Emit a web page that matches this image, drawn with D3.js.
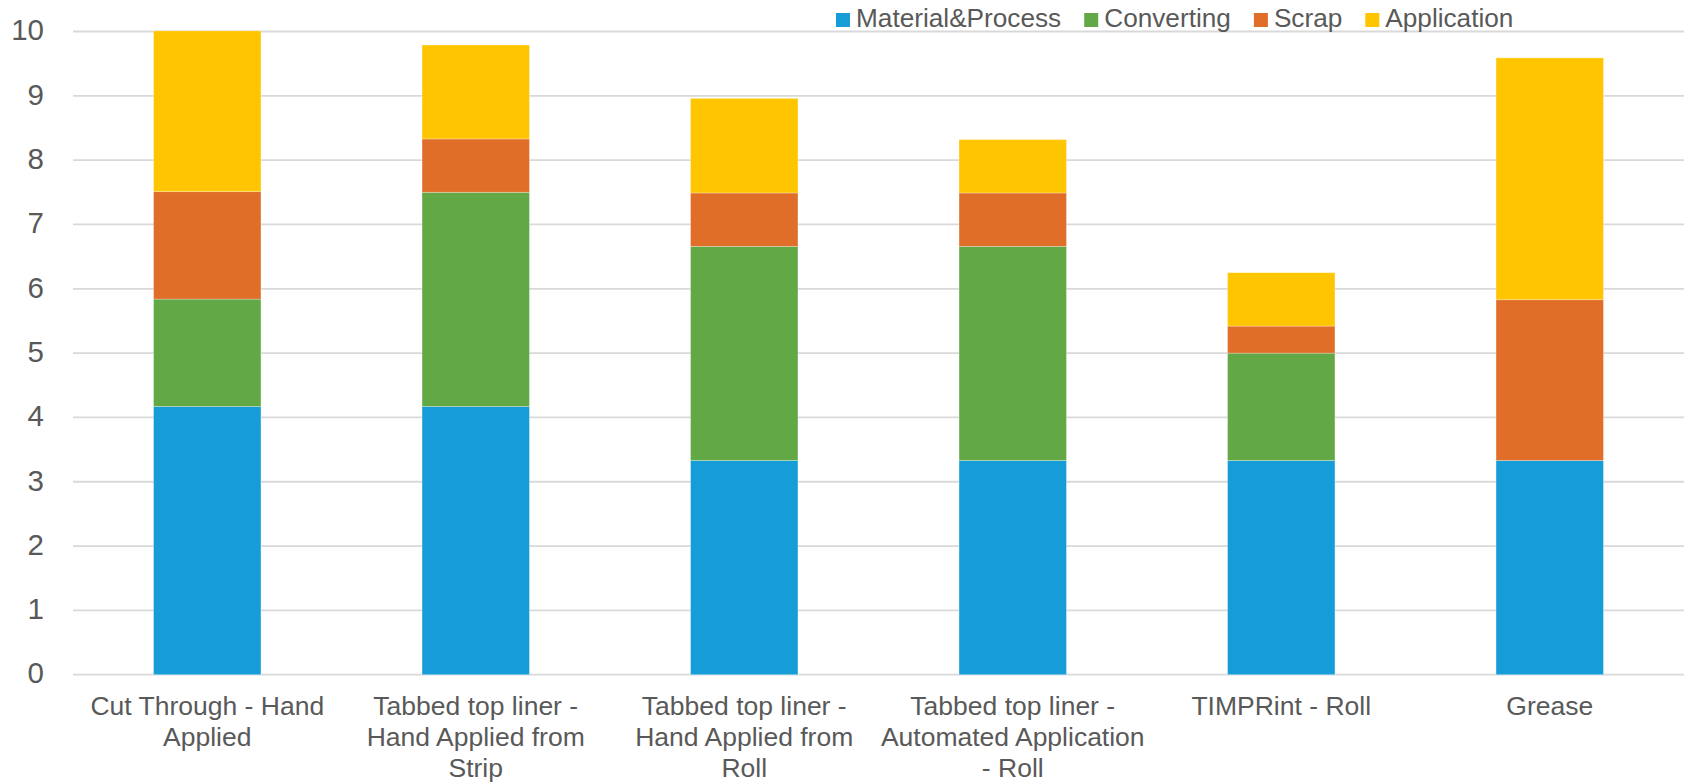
<!DOCTYPE html>
<html>
<head>
<meta charset="utf-8">
<script src="https://cdn.jsdelivr.net/npm/d3@7"></script>
<style>
  body { margin: 0; background: #fff; }
  svg { display: block; }
  text { font-family: "Liberation Sans", Arial, sans-serif; fill: #595959; }
</style>
</head>
<body>
<div class="container"></div>
<script>

var categories = [
  'Cut Through - Hand\nApplied',
  'Tabbed top liner -\nHand Applied from\nStrip',
  'Tabbed top liner -\nHand Applied from\nRoll',
  'Tabbed top liner -\nAutomated Application\n- Roll',
  'TIMPRint - Roll',
  'Grease'
]

var keys = ['Material&Process', 'Converting', 'Scrap', 'Application']

var materialProcess = [4.17, 4.17, 3.33, 3.33, 3.33, 3.33]
var converting      = [1.67, 3.33, 3.33, 3.33, 1.67, 0]
var scrap           = [1.67, 0.83, 0.83, 0.83, 0.42, 2.5]
var application     = [2.5, 1.46, 1.47, 0.83, 0.83, 3.76]

var yTicks = [0, 1, 2, 3, 4, 5, 6, 7, 8, 9, 10]

var colors = ['#169dd8', '#62a845', '#e06d28', '#ffc500']


var width = 1684
var height = 782

var rows = categories.map((name, i) => ({
  name,
  'Material&Process': materialProcess[i],
  'Converting': converting[i],
  'Scrap': scrap[i],
  'Application': application[i],
}))

var stacked = d3.stack().keys(keys)(rows)

var svg = d3.select('.container').append('svg')
  .attr('width', width)
  .attr('height', height)

var x = d3.scaleBand()
  .domain(categories)
  .range([73, 1684])
  .paddingInner(0.6)
  .paddingOuter(0.3)

var y = d3.scaleLinear()
  .domain([0, 10])
  .range([674.7, 31.5])

var color = d3.scaleOrdinal().domain(keys).range(colors)


// gridlines
svg.append('g')
  .selectAll('line')
  .data(yTicks)
  .join('line')
  .attr('x1', 73)
  .attr('x2', 1684)
  .attr('y1', d => y(d))
  .attr('y2', d => y(d))
  .attr('stroke', '#d9d9d9')
  .attr('stroke-width', 1.8)

// y axis labels, no domain line
var yAxis = d3.axisLeft(y).tickValues(yTicks).tickSize(0).tickPadding(0)
var yAxisSel = svg.append('g')
  .attr('transform', 'translate(44,0)')
  .call(yAxis)
yAxisSel.select('.domain').remove()
yAxisSel.selectAll('text')
  .attr('font-size', 29.5)
  .attr('font-family', null)
  .attr('fill', '#595959')
  .attr('dy', '0.28em')


// bars
svg.append('g')
  .selectAll('g')
  .data(stacked)
  .join('g')
  .attr('fill', d => color(d.key))
  .selectAll('rect')
  .data(d => d)
  .join('rect')
  .attr('x', d => x(d.data.name))
  .attr('width', x.bandwidth())
  .attr('y', d => y(d[1]))
  .attr('height', d => y(d[0]) - y(d[1]))
  .attr('stroke', '#fff')
  .attr('stroke-opacity', 0.35)
  .attr('stroke-width', 0.8)


// x labels, wrapped as in the source
var xLabelSel = svg.append('g')
  .selectAll('text')
  .data(categories)
  .join('text')
  .attr('text-anchor', 'middle')
  .attr('font-size', 26.5)
  .attr('transform', d => `translate(${x(d) + x.bandwidth()/2}, 715)`)

xLabelSel.selectAll('tspan')
  .data(d => d.split('\n'))
  .join('tspan')
  .attr('x', 0)
  .attr('y', (d, i) => i*31)
  .text(d => d)


// legend
var legendSel = svg.append('g').attr('transform', 'translate(836, 0)')
var lx = 0
keys.forEach((key, i) => {
  var g = legendSel.append('g').attr('transform', `translate(${lx}, 0)`)
  g.append('rect')
    .attr('x', 0)
    .attr('y', 13)
    .attr('width', 14)
    .attr('height', 14)
    .attr('fill', colors[i])
  var t = g.append('text')
    .attr('x', 20)
    .attr('y', 26.7)
    .attr('font-size', 26.2)
    .text(key)
  lx += 20 + t.node().getComputedTextLength() + 23
})

</script>
</body>
</html>
